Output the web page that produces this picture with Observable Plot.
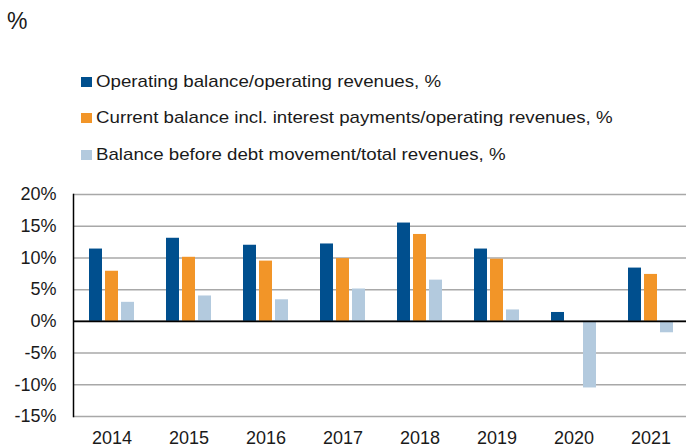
<!DOCTYPE html>
<html><head><meta charset="utf-8">
<script src="https://cdn.jsdelivr.net/npm/d3@7"></script>
<script src="https://cdn.jsdelivr.net/npm/@observablehq/plot@0.6"></script>
<style>
body{margin:0;background:#fff;font-family:"Liberation Sans",Arial,sans-serif;color:#1a1a1a;}
#wrap{width:686px;height:448px;position:relative;overflow:hidden;background:#fff}
#head{position:relative;height:175px}
.unit{position:absolute;left:7px;top:10px;font-size:23px;line-height:1}
.leg{position:absolute;left:81px;font-size:17px;line-height:20px;display:flex;align-items:center;white-space:nowrap}
.sw{width:11px;height:10px;margin-right:4px;flex:none}
.lt{display:inline-block;transform:scaleX(1.1);transform-origin:left center}
#chart svg{display:block}
</style></head>
<body><div id="wrap"><div id="head"></div><div id="chart"></div></div>
<script>
const years = ["2014","2015","2016","2017","2018","2019","2020","2021"];
const seriesNames = [
  "Operating balance/operating revenues, %",
  "Current balance incl. interest payments/operating revenues, %",
  "Balance before debt movement/total revenues, %"
];
const operating = [11.4, 13.1, 12.0, 12.2, 15.5, 11.4, 1.4, 8.4];
const current   = [7.9, 10.1, 9.5, 9.9, 13.7, 9.8, 0, 7.4];
const balance   = [3.0, 4.0, 3.4, 5.1, 6.5, 1.8, -10.5, -1.8];
const colors = ["#004f8e", "#f29528", "#b3cade"];
const yTicks = [-15, -10, -5, 0, 5, 10, 15, 20];
const unitLabel = "%";

const seriesValues = [operating, current, balance];
const data = years.flatMap((yr, i) => seriesNames.map((s, k) => ({year: yr, series: s, value: seriesValues[k][i]})));

// header: unit + legend
const head = document.getElementById("head");
const u = document.createElement("div");
u.className = "unit"; u.textContent = unitLabel; head.appendChild(u);
const legTops = [72, 108, 145];
seriesNames.forEach((s, k) => {
  const row = document.createElement("div");
  row.className = "leg"; row.style.top = legTops[k] + "px";
  const sw = document.createElement("span"); sw.className = "sw"; sw.style.background = colors[k];
  const t = document.createElement("span"); t.className = "lt"; t.textContent = s;
  row.appendChild(sw); row.appendChild(t); head.appendChild(row);
});

const chart = Plot.plot({
  width: 686, height: 273,
  marginTop: 19, marginBottom: 32, marginLeft: 72, marginRight: -3,
  style: {fontFamily: "'Liberation Sans', Arial, sans-serif", fontSize: "18px", color: "#1a1a1a", background: "white"},
  fx: {domain: years, padding: 0, label: null, tickSize: 0, tickPadding: 15, axis: "bottom"},
  x: {domain: seriesNames, paddingInner: 0.206, paddingOuter: 0.87, axis: null},
  y: {domain: [-15, 20], ticks: yTicks, tickFormat: d => d + "%", label: null, tickSize: 0, tickPadding: 17},
  color: {domain: seriesNames, range: colors},
  marks: [
    Plot.ruleY(yTicks, {stroke: "#a8a8a8", strokeWidth: 1.5}),
    Plot.barY(data, {fx: "year", x: "series", y: "value", fill: "series"}),
    Plot.ruleY([0], {stroke: "#000", strokeWidth: 1.6}),
    Plot.frame({anchor: "left", facetAnchor: "left", stroke: "#000", strokeWidth: 1.5})
  ]
});
document.getElementById("chart").appendChild(chart);
</script>
</body></html>
